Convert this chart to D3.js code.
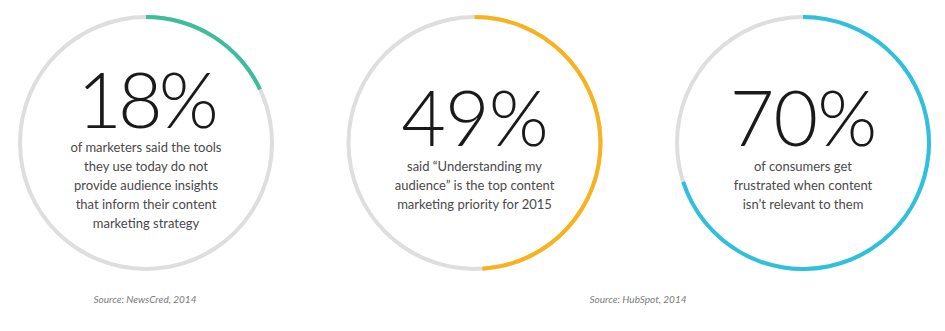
<!doctype html>
<html lang="en">
    <head>
        <meta charset="utf-8">
        <title>Stat rings</title>
        <script type="text/javascript" src="https://cdn.jsdelivr.net/npm/d3@7"></script>
        <style>
            body { margin: 0; background: #fff; }
            text { font-family: Lato, "Open Sans", sans-serif; }
        </style>
    </head>
    <body>
        <script type="text/javascript">
            var svgW = 945;
            var svgH = 331;

            // data
            var percents = [18, 49, 70];
            var colors = ["#3dbd99", "#f8b31c", "#2ec1dd"];
            var captions = [
                ["of marketers said the tools", "they use today do not", "provide audience insights", "that inform their content", "marketing strategy"],
                ["said \u201cUnderstanding my", "audience\u201d is the top content", "marketing priority for 2015"],
                ["of consumers get", "frustrated when content", "isn\u2019t relevant to them"]
            ];
            var sources = ["Source: NewsCred, 2014", "Source: HubSpot, 2014"];
            var sourceX = [145, 638];

            var radius = 126;
            var ringW = 4;
            var cy = 143;

            var xScale = d3.scalePoint()
                           .domain(d3.range(percents.length))
                           .range([146, 803]);

            var angle = d3.scaleLinear()
                          .domain([0, 100])
                          .range([0, 2 * Math.PI]);

            var arc = d3.arc()
                        .innerRadius(radius - ringW / 2)
                        .outerRadius(radius + ringW / 2)
                        .startAngle(0);

            var svg = d3.select("body")
                        .append("svg")
                        .attr("width", svgW)
                        .attr("height", svgH);

            var rings = svg.selectAll("g.ring")
                           .data(percents)
                           .enter()
                           .append("g")
                           .attr("class", "ring")
                           .attr("transform", (_, i) => "translate(" + xScale(i) + "," + cy + ")");

            // grey track
            rings.append("path")
                 .attr("fill", "#dedede")
                 .attr("d", () => arc({endAngle: angle(100)}));

            // coloured share
            rings.append("path")
                 .attr("fill", (_, i) => colors[i])
                 .attr("d", d => arc({endAngle: angle(d)}));

            rings.append("text")
                 .attr("text-anchor", "middle")
                 .attr("y", (_, i) => i === 0 ? -15 : 3)
                 .attr("fill", "#1a1a1a")
                 .style("font-size", "77px")
                 .style("font-weight", 300)
                 .style("letter-spacing", (_, i) => i === 0 ? "-4px" : "-1px")
                 .text(d => d + "%");

            rings.each(function (_, i) {
                var top = i === 0 ? 9 : 28;
                d3.select(this).selectAll("text.cap")
                  .data(captions[i])
                  .enter()
                  .append("text")
                  .attr("class", "cap")
                  .attr("text-anchor", "middle")
                  .attr("y", (_, j) => top + j * 19)
                  .attr("fill", "#4a4a4a")
                  .style("font-size", "13px")
                  .text(d => d);
            });

            svg.selectAll("text.src")
               .data(sources)
               .enter()
               .append("text")
               .attr("class", "src")
               .attr("x", (_, i) => sourceX[i])
               .attr("y", 303)
               .attr("text-anchor", "middle")
               .attr("fill", "#7a7a7a")
               .style("font-size", "10px")
               .style("font-style", "italic")
               .text(d => d);
        </script>
    </body>
</html>
